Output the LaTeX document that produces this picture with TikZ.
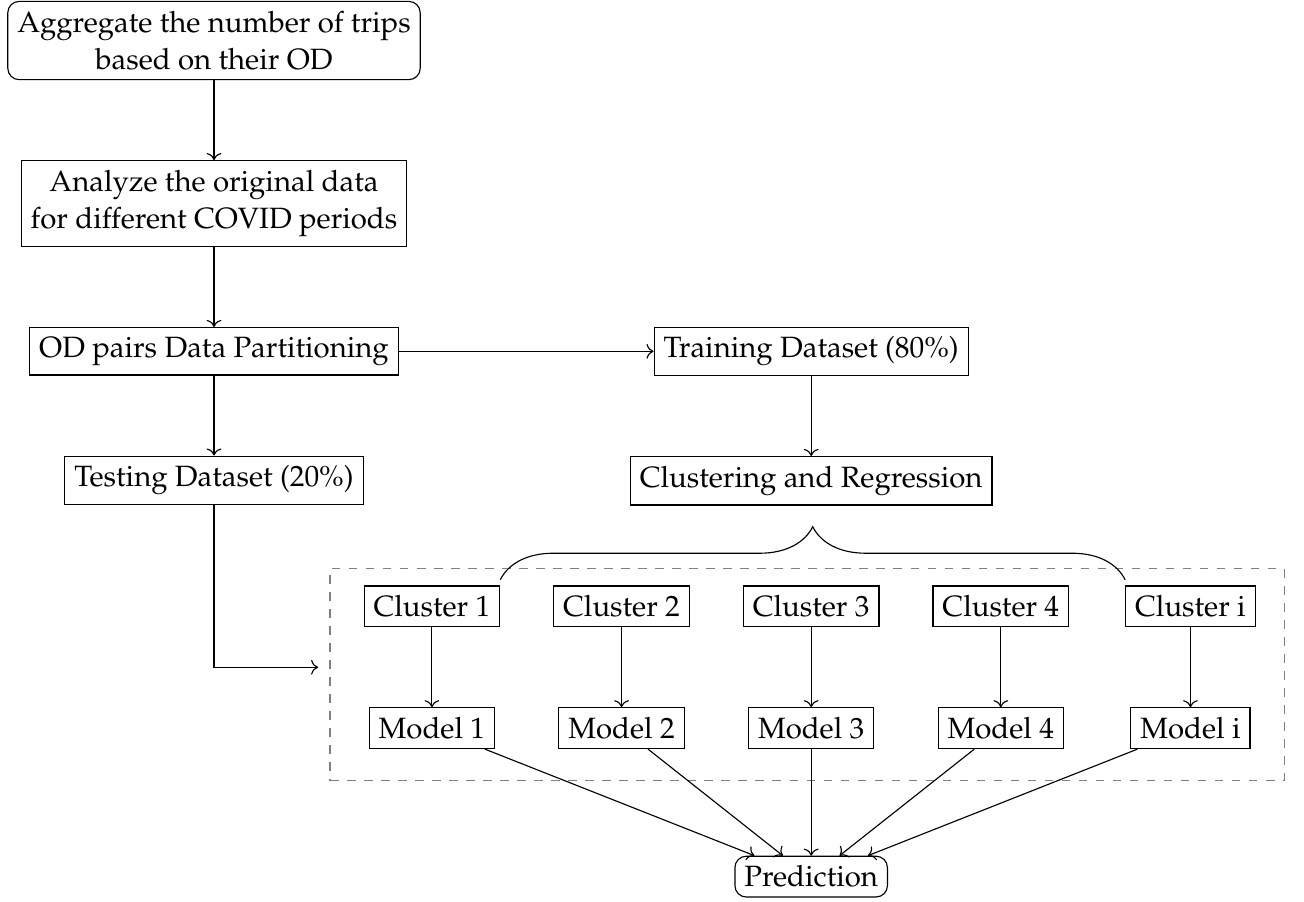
\documentclass[tikz,border=0pt]{standalone}
\usepackage[T1]{fontenc}
\usepackage{mathpazo}
\usetikzlibrary{arrows.meta,positioning,fit,calc,decorations.pathreplacing}

\begin{document}
\begin{tikzpicture}[node distance=0.99cm, every node/.style={font=\fontsize{10.35}{13.2}\selectfont}, box/.style={draw, align=center}, rbox/.style={draw, rounded corners, align=center}, arrow/.style={->}]
\useasboundingbox (-2.652,0.502) rectangle (13.507,-10.675);
\node[rbox] (agg) {Aggregate the number of trips\\based on their OD};
\node[box, below=of agg] (analyze) {Analyze the original data\\for different COVID periods};
\node[box, below=of analyze] (part) {OD pairs Data Partitioning};
\node[box, below=of part] (test) {Testing Dataset (20\%)};
\node[box, on grid, right=7.4cm of part] (train) {Training Dataset (80\%)};
\node[box, below=of train] (clreg) {Clustering and Regression};
\node[box, below=of clreg] (cl3) {Cluster 3};
\node[box, on grid, left=2.35cm of cl3] (cl2) {Cluster 2};
\node[box, on grid, left=2.35cm of cl2] (cl1) {Cluster 1};
\node[box, on grid, right=2.35cm of cl3] (cl4) {Cluster 4};
\node[box, on grid, right=2.35cm of cl4] (cli) {Cluster i};
\foreach \n in {1,2,3,4,i}
  \node[box, below=of cl\n] (mod\n) {Model \n};
\node[rbox, below=1.32cm of mod3] (pred) {Prediction};
% dashed group round the clusters and models
\node[draw=gray, dashed, fit=(cl1) (modi), inner xsep=11.8pt, inner ysep=8.6pt, yshift=-2.6pt] (grp) {};
\coordinate (mid) at ($(cl1)!0.5!(mod1)$);
\draw[decorate, decoration={brace, amplitude=18.7pt}] ([yshift=2pt]cl1.north east) -- ([yshift=2pt]cli.north west);
\draw[arrow] (agg) -- (analyze);
\draw[arrow] (analyze) -- (part);
\draw[arrow] (part) -- (test);
\draw[arrow] (part) -- (train);
\draw[arrow] (train) -- (clreg);
\draw[arrow] (test) |- ($(grp.west |- mid)+(-4pt,0)$);
\foreach \n in {1,2,3,4,i}
  \draw[arrow] (cl\n) -- (mod\n);
\draw[arrow] (mod1) -- ([xshift=-20pt]pred.north);
\draw[arrow] (mod2) -- ([xshift=-10pt]pred.north);
\draw[arrow] (mod3) -- (pred.north);
\draw[arrow] (mod4) -- ([xshift=10pt]pred.north);
\draw[arrow] (modi) -- ([xshift=20pt]pred.north);
\end{tikzpicture}
\end{document}
